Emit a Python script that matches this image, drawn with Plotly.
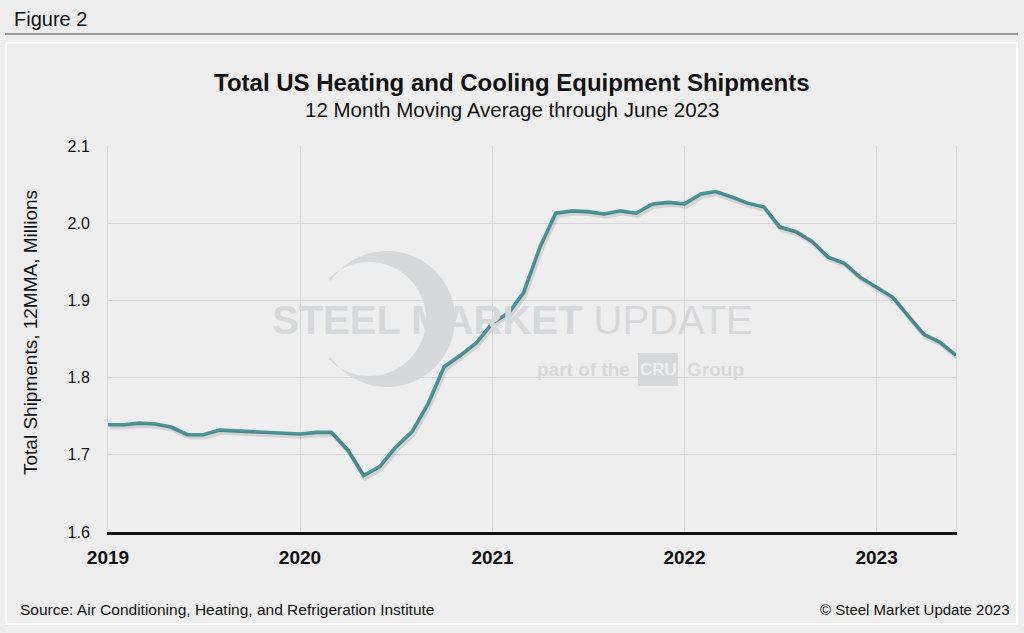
import numpy as np
import pandas as pd
import plotly.graph_objects as go

months = pd.date_range("2019-01-01", "2023-06-01", freq="MS")
shipments = [
    1.739, 1.739, 1.741, 1.740, 1.736, 1.726, 1.726, 1.732, 1.731, 1.730, 1.730, 1.728,
    1.727, 1.729, 1.729, 1.706, 1.673, 1.685, 1.710, 1.730, 1.767, 1.814, 1.829, 1.845,
    1.871, 1.884, 1.910, 1.969, 2.013, 2.016, 2.015, 2.012, 2.016, 2.013, 2.025, 2.027,
    2.025, 2.038, 2.041, 2.034, 2.026, 2.021, 1.995, 1.989, 1.976, 1.956, 1.948, 1.930,
    1.917, 1.904, 1.881, 1.856, 1.846, 1.829,
]
year_ticks = ["2019-01-01", "2020-01-01", "2021-01-01", "2022-01-01", "2023-01-01"]
year_labels = ["2019", "2020", "2021", "2022", "2023"]
y_ticks = [1.6, 1.7, 1.8, 1.9, 2.0, 2.1]

FONT = "Liberation Sans, Arial, sans-serif"
W, H = 1024, 633
L, R, T, B = 108, 68, 146, 101
PW, PH = W - L - R, H - T - B

def px(x):
    return (x - L) / PW

def py(y):
    return (H - B - y) / PH

# shadow axes offset by a couple of pixels
x0, x1 = months[0], months[-1]
span = (x1 - x0)
dx = span * (1.5 / PW)
dy = 0.5 * (2.5 / PH)

fig = go.Figure()
fig.add_trace(go.Scatter(
    x=months, y=shipments, mode="lines", xaxis="x2", yaxis="y2",
    line=dict(color="rgba(60,60,60,0.15)", width=4.5), hoverinfo="skip", showlegend=False,
))
fig.add_trace(go.Scatter(
    x=months, y=shipments, mode="lines",
    line=dict(color="#4b959c", width=3.6),
    hoverinfo="x+y", showlegend=False,
))

# watermark crescent polygon (pixel geometry -> paper)
def circle_pts(cx, cy, r, a0, a1, n=60):
    t = np.radians(np.linspace(a0, a1, n))
    return cx + r * np.cos(t), cy - r * np.sin(t)

ox, oy = circle_pts(387, 319, 68, 146, -146)
ix, iy = circle_pts(369, 319, 57, -135, 135)
pts = list(zip(ox, oy)) + list(zip(ix, iy))
path = "M " + " L ".join("%.5f,%.5f" % (px(a), py(b)) for a, b in pts) + " Z"

WM = "#d7d8da"
shapes = [
    dict(type="line", xref="paper", yref="paper", x0=px(5), x1=px(1018), y0=py(34), y1=py(34),
         line=dict(color="#444444", width=1.2), layer="below"),
    dict(type="rect", xref="paper", yref="paper", x0=px(6), x1=px(1017), y0=py(43), y1=py(624),
         line=dict(color="#ffffff", width=2), fillcolor="#eeeeee", layer="below"),
    dict(type="path", xref="paper", yref="paper", layer="below", path=path,
         fillcolor=WM, line=dict(width=0)),
    dict(type="rect", xref="paper", yref="paper", layer="below",
         x0=px(638), x1=px(678), y0=py(353), y1=py(386),
         fillcolor=WM, line=dict(width=0)),
]

annotations = [
    dict(text="Figure 2", xref="paper", yref="paper", x=px(12), y=py(19), xanchor="left", yanchor="middle",
         showarrow=False, font=dict(family=FONT, size=20, color="#111111")),
    dict(text="<b>Total US Heating and Cooling Equipment Shipments</b>", xref="paper", yref="paper",
         x=px(512), y=py(82), xanchor="center", yanchor="middle", showarrow=False,
         font=dict(family=FONT, size=24, color="#111111")),
    dict(text="12 Month Moving Average through June 2023", xref="paper", yref="paper",
         x=px(512), y=py(110), xanchor="center", yanchor="middle", showarrow=False,
         font=dict(family=FONT, size=20.5, color="#111111")),
    dict(text="Total Shipments, 12MMA, Millions", xref="paper", yref="paper", textangle=-90,
         x=px(30), y=py(333), xanchor="center", yanchor="middle", showarrow=False,
         font=dict(family=FONT, size=19, color="#111111")),
    dict(text="Source: Air Conditioning, Heating, and Refrigeration Institute", xref="paper", yref="paper",
         x=px(18), y=py(609), xanchor="left", yanchor="middle", showarrow=False,
         font=dict(family=FONT, size=15.5, color="#111111")),
    dict(text="© Steel Market Update 2023", xref="paper", yref="paper",
         x=px(1012), y=py(609), xanchor="right", yanchor="middle", showarrow=False,
         font=dict(family=FONT, size=15, color="#111111")),
    dict(text="<b>STEEL MARKET</b> UPDATE", xref="paper", yref="paper",
         x=px(512), y=py(320), xanchor="center", yanchor="middle", showarrow=False,
         font=dict(family=FONT, size=40, color=WM)),
    dict(text="<b>part of the</b>", xref="paper", yref="paper",
         x=px(632), y=py(369), xanchor="right", yanchor="middle", showarrow=False,
         font=dict(family=FONT, size=19, color=WM)),
    dict(text="<b>CRU</b>", xref="paper", yref="paper",
         x=px(658), y=py(369), xanchor="center", yanchor="middle", showarrow=False,
         font=dict(family="Liberation Sans Narrow, " + FONT, size=17, color="#eeeeee")),
    dict(text="<b>Group</b>", xref="paper", yref="paper",
         x=px(685), y=py(369), xanchor="left", yanchor="middle", showarrow=False,
         font=dict(family=FONT, size=19, color=WM)),
]

fig.update_layout(
    width=W, height=H,
    margin=dict(l=L, r=R, t=T, b=B),
    paper_bgcolor="#eeeeee",
    plot_bgcolor="#e8e9eb",
    shapes=shapes,
    annotations=annotations,
    xaxis=dict(
        range=[x0, x1],
        tickvals=year_ticks, ticktext=["<b>%s</b>" % t for t in year_labels],
        tickfont=dict(family=FONT, size=19, color="#111111"),
        showgrid=True, gridcolor="#d6d6d6", gridwidth=1,
        showline=True, linecolor="#111111", linewidth=2.5,
        ticks="outside", ticklen=6, tickcolor="rgba(0,0,0,0)", zeroline=False,
    ),
    yaxis=dict(
        range=[1.6, 2.1], tickvals=y_ticks, tickformat=".1f",
        tickfont=dict(family=FONT, size=16, color="#111111"),
        showgrid=True, gridcolor="#d6d6d6", gridwidth=1,
        showline=True, linecolor="#d6d6d6", linewidth=1, mirror=True,
        ticks="outside", ticklen=14, tickcolor="rgba(0,0,0,0)", zeroline=False,
    ),
    xaxis2=dict(range=[x0 - dx, x1 - dx], overlaying="x", visible=False),
    yaxis2=dict(range=[1.6 + dy, 2.1 + dy], overlaying="y", visible=False),
)

fig.write_html("out.html", config={"displayModeBar": False},
               post_script="document.body.style.margin='0';")
